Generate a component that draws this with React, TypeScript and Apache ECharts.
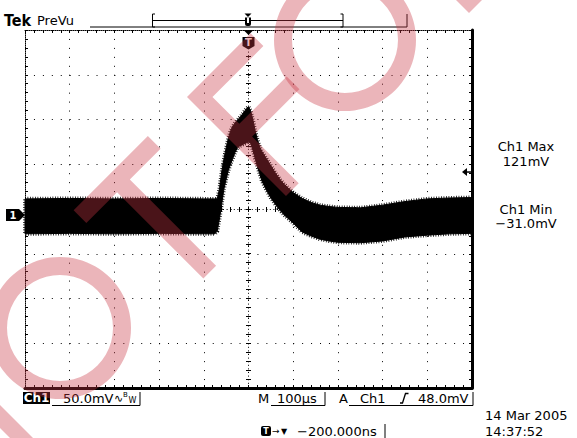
import React, { useEffect, useRef } from "react";
import * as echarts from "echarts";

// ---- data (time in µs from trigger, mV relative to Ch1 ground) ----
const TIME_US = [-500, -400, -300, -200, -100, -75, -70, -65, -60, -55, -50, -45, -40, -35, -30, -25, -20, -15, -10, -5, 0, 5, 10, 15, 20, 25, 30, 40, 50, 60, 70, 80, 100, 120, 140, 160, 180, 200, 250, 300, 350, 400, 450, 500];
const CH1_UPPER_MV = [18, 18.5, 18, 18.5, 18, 18, 18, 29, 48, 62.6, 74.9, 86, 93.9, 99.5, 102.8, 106.1, 108.4, 111.7, 115.1, 118.4, 121, 116, 106, 94, 84, 76, 71, 63, 55, 47, 40, 34, 25, 18.5, 14, 11, 9.5, 8.5, 8, 11, 15, 18, 19, 19.5];
const CH1_LOWER_MV = [-21, -20.5, -21, -20.5, -21, -21, -18, -4.5, 12, 29, 40, 50, 57, 63.5, 70, 75, 77, 78, 79.5, 80.5, 82, 80, 72, 63, 54, 46, 38, 28, 19, 12, 5.5, 0, -9, -19, -23.5, -27, -29, -30.5, -31, -29, -24.5, -22.5, -21, -20.5];

const TIME_RANGE_US = [-500, 500];
const MV_PER_DIV = 50;
const H_DIVS = 10;
const V_DIVS = 8;
const GROUND_OFFSET_MV = 6.7; // Ch1 ground marker sits slightly below screen centre
const TRIGGER_LEVEL_MV = 48;
const TRIGGER_TIME_US = 0;

const HEADER_BRAND = "Tek";
const HEADER_MODE = "PreVu";
const MEAS_LABELS = ["Ch1 Max", "Ch1 Min"];
const MEAS_VALUES = ["121mV", "\u221231.0mV"];
const CH_SCALE = "50.0mV";
const TIMEBASE = "100\u00b5s";
const TRIG_LEVEL_TEXT = "48.0mV";
const TRIG_POS_TEXT = "\u2212200.000ns";
const DATE_TEXT = "14 Mar 2005";
const TIME_TEXT = "14:37:52";

// ---- layout ----
const GRID = { left: 25, top: 30, width: 447, height: 358 };
const FONT = '"DejaVu Sans", sans-serif';
const WM_FILL = "rgba(201,54,67,0.37)";
const S2 = Math.SQRT1_2;
const rot = (ox: number, oy: number, pts: number[][]) =>
  pts.map(([lx, ly]) => [ox + S2 * (lx + ly), oy + S2 * (ly - lx)]);

const SW = 18; // watermark stroke width
const T_PTS = [[0, 0], [105, 0], [105, SW], [61.5, SW], [61.5, 140], [43.5, 140], [43.5, SW], [0, SW]];
const F_PTS = [[0, 0], [90, 0], [90, SW], [SW, SW], [SW, 56], [85, 56], [85, 74], [SW, 74], [SW, 140], [0, 140]];

function txt(text: string, x: number, y: number, size = 13, extra: any = {}) {
  return {
    type: "text",
    z: 50,
    silent: true,
    style: {
      text,
      x,
      y,
      fill: extra.fill || "#000",
      font: `${extra.weight || "normal"} ${size}px ${extra.family || FONT}`,
      textAlign: extra.align || "left",
      textVerticalAlign: "middle",
    },
  };
}
function pl(points: number[][], width = 1) {
  return { type: "polyline", z: 50, silent: true, shape: { points }, style: { stroke: "#000", lineWidth: width, fill: null } };
}

export default function App() {
  const ref = useRef<HTMLDivElement>(null);
  useEffect(() => {
    if (!ref.current) return;
    const chart = echarts.init(ref.current, null, { renderer: "svg" });
    const hdiv = GRID.width / H_DIVS / 5;
    const vdiv = GRID.height / V_DIVS / 5;
    const gratX = {
      type: "value",
      min: -H_DIVS / 2,
      max: H_DIVS / 2,
      interval: 1,
      axisLabel: { show: false },
    };
    const gratY = {
      type: "value",
      min: -V_DIVS / 2,
      max: V_DIVS / 2,
      interval: 1,
      axisLabel: { show: false },
    };
    const tick = { show: true, inside: true, length: 3, lineStyle: { color: "#000", width: 1 } };
    const minor = { show: true, splitNumber: 5, length: 3, lineStyle: { color: "#000", width: 1 } };

    const graphics: any[] = [
      // header
      txt(HEADER_BRAND, 4, 20, 16, { weight: "bold", family: '"DejaVu Sans Condensed", sans-serif' }),
      txt(HEADER_MODE, 37, 20, 13),
      pl([[90, 27], [407, 27], [407, 14]]),
      pl([[155, 14], [152.5, 14], [152.5, 27], [155, 27]]),
      pl([[152.5, 20.5], [343, 20.5]]),
      pl([[340.5, 14], [343, 14], [343, 27], [340.5, 27]]),
      { type: "polygon", z: 50, shape: { points: [[244.5, 13.5], [251.5, 13.5], [248, 17]] }, style: { fill: "#000" } },
      { type: "rect", z: 50, shape: { x: 245, y: 17.5, width: 6, height: 8.5, r: [0, 0, 2, 2] }, style: { fill: "#000" } },
      { type: "rect", z: 51, shape: { x: 247, y: 17.5, width: 2, height: 5.5 }, style: { fill: "#fff" } },
      // right measurements
      txt(MEAS_LABELS[0], 526, 146, 13, { align: "center" }),
      txt(MEAS_VALUES[0], 526, 161, 13, { align: "center" }),
      txt(MEAS_LABELS[1], 526, 209, 13, { align: "center" }),
      txt(MEAS_VALUES[1], 526, 223, 13, { align: "center" }),
      // bottom readout
      { type: "rect", z: 50, shape: { x: 23, y: 392, width: 27, height: 12 }, style: { fill: "#000" } },
      txt("Ch1", 36.5, 398, 12, { align: "center", fill: "#fff", weight: "bold" }),
      txt(CH_SCALE, 63, 398, 13),
      txt("\u223f", 114, 398, 11),
      txt("B", 123, 395, 7),
      txt("W", 128.5, 400, 8),
      pl([[52, 405.5], [140, 405.5], [140, 392]]),
      txt("M", 258, 398, 13),
      txt(TIMEBASE, 277, 398, 13),
      pl([[271, 405.5], [325, 405.5], [325, 392]]),
      txt("A", 339, 398, 13),
      txt("Ch1", 360, 398, 13),
      pl([[400, 403], [402.5, 403], [405.5, 393.5], [408.5, 393.5]], 1.3),
      txt(TRIG_LEVEL_TEXT, 418, 398, 13),
      pl([[349, 405.5], [473, 405.5], [473, 392]]),
      txt(DATE_TEXT, 485, 415, 13),
      txt(TIME_TEXT, 485, 431, 13),
      { type: "rect", z: 50, shape: { x: 261, y: 426, width: 10, height: 10, r: 2 }, style: { fill: "#000" } },
      txt("T", 266, 431.5, 8, { align: "center", fill: "#fff", weight: "bold" }),
      txt("\u2192", 272, 431, 9),
      txt("\u25bc", 281, 431, 8),
      txt(TRIG_POS_TEXT, 297, 431, 13),
      pl([[385, 424], [385, 438]]),
      // watermark
      { type: "ring", z: 100, silent: true, shape: { cx: 60, cy: 328, r: 71, r0: 53 }, style: { fill: WM_FILL } },
      { type: "ring", z: 100, silent: true, shape: { cx: 345, cy: 40, r: 71, r0: 53 }, style: { fill: WM_FILL } },
      { type: "polygon", z: 100, silent: true, shape: { points: rot(73.6, 210.3, T_PTS) }, style: { fill: WM_FILL } },
      { type: "polygon", z: 100, silent: true, shape: { points: rot(187, 97, F_PTS) }, style: { fill: WM_FILL } },
      { type: "polygon", z: 100, silent: true, shape: { points: [[-30, 375], [70, 475], [47, 475], [-30, 398]] }, style: { fill: WM_FILL } },
      { type: "polygon", z: 100, silent: true, shape: { points: [[454, -2], [469, 13], [497, -15], [482, -30]] }, style: { fill: WM_FILL } },
    ];

    const option: any = {
      animation: false,
      backgroundColor: "#fff",
      grid: { left: GRID.left, top: GRID.top, width: GRID.width, height: GRID.height },
      xAxis: [
        {
          ...gratX,
          position: "bottom",
          axisLine: { show: true, onZero: false, lineStyle: { color: "#000", width: 3 } },
          axisTick: tick,
          minorTick: minor,
          splitLine: { show: true, lineStyle: { color: "#000", width: 1, type: [1, vdiv - 1] } },
        },
        {
          ...gratX,
          position: "top",
          axisLine: { show: true, onZero: false, lineStyle: { color: "#000", width: 1, type: [1, 1] } },
          axisTick: tick,
          minorTick: minor,
          splitLine: { show: false },
        },
        { type: "value", min: TIME_RANGE_US[0], max: TIME_RANGE_US[1], show: false, axisLine: { onZero: false } },
      ],
      yAxis: [
        {
          ...gratY,
          position: "left",
          axisLine: { show: true, onZero: false, lineStyle: { color: "#000", width: 1, type: [1, 1] } },
          axisTick: tick,
          minorTick: minor,
          splitLine: { show: true, lineStyle: { color: "#000", width: 1, type: [1, hdiv - 1] } },
        },
        {
          ...gratY,
          position: "right",
          axisLine: { show: true, onZero: false, lineStyle: { color: "#000", width: 3 } },
          axisTick: tick,
          minorTick: minor,
          splitLine: { show: false },
        },
        {
          type: "value",
          min: -(V_DIVS / 2) * MV_PER_DIV + GROUND_OFFSET_MV,
          max: (V_DIVS / 2) * MV_PER_DIV + GROUND_OFFSET_MV,
          show: false,
          axisLine: { onZero: false },
        },
      ],
      graphic: { elements: graphics },
      series: [
        {
          type: "custom",
          name: "graticule centre",
          xAxisIndex: 0,
          yAxisIndex: 0,
          z: 1,
          silent: true,
          clip: false,
          data: [[0, 0]],
          renderItem: (_p: any, api: any) => {
            const c = api.coord([0, 0]);
            const cx = Math.floor(c[0]) + 0.5;
            const cy = Math.floor(c[1]) + 0.5;
            const [x0, y0] = api.coord([-H_DIVS / 2, V_DIVS / 2]);
            const [x1, y1] = api.coord([H_DIVS / 2, -V_DIVS / 2]);
            const st = { stroke: "#000", lineWidth: 1 };
            const children: any[] = [
              { type: "line", shape: { x1: x0, y1: cy, x2: x1, y2: cy }, style: { ...st, lineDash: [1, 2.6] } },
              { type: "line", shape: { x1: cx, y1: y0, x2: cx, y2: y1 }, style: { ...st, lineDash: [1, 2.6] } },
            ];
            for (let i = -H_DIVS * 5 / 2 + 1; i < H_DIVS * 5 / 2; i++) {
              const x = Math.floor(api.coord([i / 5, 0])[0]) + 0.5;
              children.push({ type: "line", shape: { x1: x, y1: cy - 2.5, x2: x, y2: cy + 2.5 }, style: st });
            }
            for (let j = -V_DIVS * 5 / 2 + 1; j < V_DIVS * 5 / 2; j++) {
              const y = Math.floor(api.coord([0, j / 5])[1]) + 0.5;
              children.push({ type: "line", shape: { x1: cx - 2.5, y1: y, x2: cx + 2.5, y2: y }, style: st });
            }
            return { type: "group", children };
          },
        },
        {
          type: "custom",
          name: "Ch1",
          xAxisIndex: 2,
          yAxisIndex: 2,
          z: 5,
          silent: true,
          data: [[0, 0]],
          renderItem: (_p: any, api: any) => {
            const up = TIME_US.map((t, i) => api.coord([t, CH1_UPPER_MV[i]]));
            const lo = TIME_US.map((t, i) => api.coord([t, CH1_LOWER_MV[i]])).reverse();
            const pts = up.concat(lo);
            return {
              type: "group",
              children: [
                { type: "polygon", shape: { points: pts }, style: { fill: "#000", stroke: "#000", lineWidth: 1 } },
                { type: "polygon", shape: { points: pts }, style: { fill: null, stroke: "#000", lineWidth: 4, lineDash: [0.8, 1.7] } },
              ],
            };
          },
        },
        {
          type: "custom",
          name: "markers",
          xAxisIndex: 2,
          yAxisIndex: 2,
          z: 6,
          silent: true,
          clip: false,
          data: [[0, 0]],
          renderItem: (_p: any, api: any) => {
            const [gx, gy] = api.coord([TIME_RANGE_US[0], 0]);
            const [ax, ay] = api.coord([TIME_RANGE_US[1], TRIGGER_LEVEL_MV]);
            const [tx, top] = api.coord([TRIGGER_TIME_US, (V_DIVS / 2) * MV_PER_DIV + GROUND_OFFSET_MV]);
            return {
              type: "group",
              children: [
                { type: "polygon", shape: { points: [[gx - 19, gy - 6], [gx - 6, gy - 6], [gx, gy], [gx - 6, gy + 6], [gx - 19, gy + 6]] }, style: { fill: "#000" } },
                { type: "text", style: { text: "1", x: gx - 12, y: gy + 0.5, fill: "#fff", font: `bold 10px ${FONT}`, textAlign: "center", textVerticalAlign: "middle" } },
                { type: "polygon", shape: { points: [[ax - 10, ay], [ax - 5, ay - 4], [ax - 5, ay + 4]] }, style: { fill: "#000" } },
                { type: "line", shape: { x1: ax - 5, y1: ay, x2: ax, y2: ay }, style: { stroke: "#000", lineWidth: 1.5 } },
                { type: "polygon", shape: { points: [[tx - 5, top], [tx + 5, top], [tx, top + 5]] }, style: { fill: "#000" } },
                { type: "polygon", shape: { points: [[tx - 6, top + 7], [tx + 6, top + 7], [tx + 6, top + 16], [tx, top + 19.5], [tx - 6, top + 16]] }, style: { fill: "#000" } },
                { type: "text", style: { text: "T", x: tx, y: top + 12.5, fill: "#fff", font: `bold 10px ${FONT}`, textAlign: "center", textVerticalAlign: "middle" } },
              ],
            };
          },
        },
      ],
    };
    chart.setOption(option);
    return () => chart.dispose();
  }, []);
  return <div ref={ref} style={{ position: "absolute", left: 0, top: 0, width: 577, height: 438 }} />;
}
